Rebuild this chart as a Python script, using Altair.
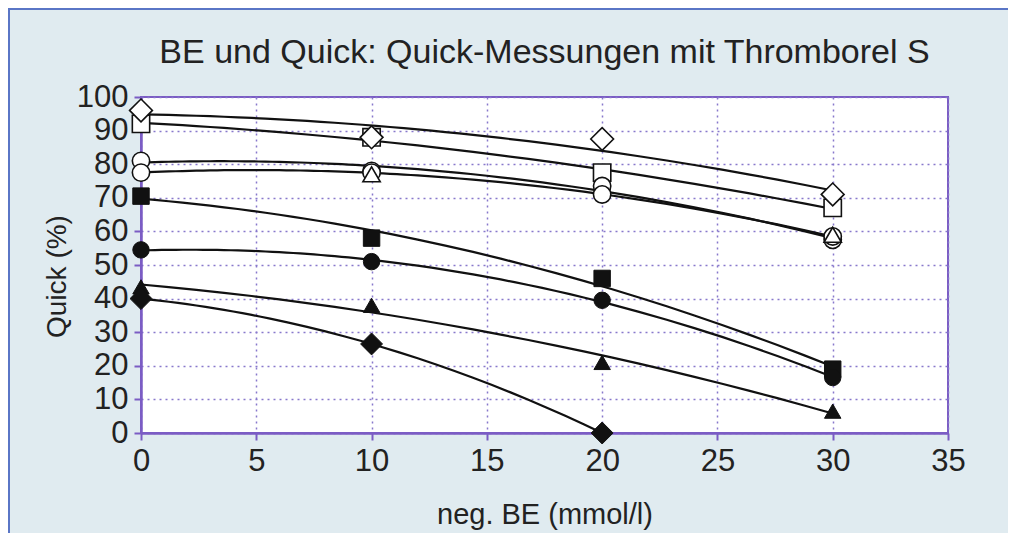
import altair as alt
import pandas as pd

# ---- data ----
be = [0, 10, 20, 30]
open_diamond = [96, 88, 87.5, 71]
open_square = [92, 88, 77.5, 67]
open_circle_a = [81, 78, 73.5, 57.5]
open_circle_b = [77.5, 77.5, 71, 58.5]
open_triangle_x = [10, 30]
open_triangle = [77, 59]
filled_square = [70.5, 58, 46, 19]
filled_circle = [54.5, 51, 39.5, 16.5]
filled_triangle = [43.5, 38, 21, 6.5]
filled_diamond_x = [0, 10, 20]
filled_diamond = [40, 26.5, 0]

x_ticks = [0, 5, 10, 15, 20, 25, 30, 35]
y_ticks = [0, 10, 20, 30, 40, 50, 60, 70, 80, 90, 100]
chart_title = "BE und Quick: Quick-Messungen mit Thromborel S"

rows = []
def add(name, shape, filled, xs, ys, line=True):
    for xv, yv in zip(xs, ys):
        rows.append(dict(series=name, shape=shape, filled=filled, line=line, x=xv, y=yv))

add("open_square", "square", False, be, open_square)
add("open_circle_a", "circle", False, be, open_circle_a)
add("open_circle_b", "circle", False, be, open_circle_b)
add("open_diamond", "diamond", False, be, open_diamond)
add("open_triangle", "triangle-up", False, open_triangle_x, open_triangle, line=False)
add("filled_square", "square", True, be, filled_square)
add("filled_circle", "circle", True, be, filled_circle)
add("filled_triangle", "triangle-up", True, be, filled_triangle)
add("filled_diamond", "diamond", True, filled_diamond_x, filled_diamond)
df = pd.DataFrame(rows)

W, H = 807, 336
PAD = {"left": 133, "top": 89, "right": 60, "bottom": 100}
PURPLE = "#7b5cc4"
TEXT = "#222222"
FONT = "Liberation Sans"

xs = alt.Scale(domain=[0, 35], nice=False)
ys = alt.Scale(domain=[0, 100], nice=False)

x_axis = alt.Axis(values=x_ticks, title="neg. BE (mmol/l)", titlePadding=24,
                  titleFontSize=29, labelFlush=False, labelOverlap=False)
y_axis = alt.Axis(values=y_ticks, title="Quick (%)", titleAngle=-90, titleAlign="center",
                  titleBaseline="middle", titleX=-84, titleY=179, titleFontSize=28,
                  labelFlush=False, labelOverlap=False)

X = alt.X("x:Q", scale=xs, axis=x_axis)
Y = alt.Y("y:Q", scale=ys, axis=y_axis)

base = alt.Chart(df)

lines = base.transform_filter("datum.line").transform_regression(
    "x", "y", method="poly", order=2, groupby=["series"]
).mark_line(color="#111111", strokeWidth=2.2).encode(
    x=X, y=Y, detail="series:N",
)

open_pts = base.transform_filter("!datum.filled").mark_point(
    filled=True, fill="white", stroke="#111111", strokeWidth=1.6, opacity=1
).encode(
    x=X, y=Y, shape=alt.Shape("shape:N", scale=None),
    size=alt.condition("datum.shape == 'diamond'", alt.value(520), alt.value(300)),
)

filled_pts = base.transform_filter("datum.filled").mark_point(
    filled=True, fill="#111111", stroke="#111111", strokeWidth=1, opacity=1
).encode(
    x=X, y=Y, shape=alt.Shape("shape:N", scale=None),
    size=alt.condition("datum.shape == 'diamond'", alt.value(480), alt.value(270)),
)

one = pd.DataFrame({"t": [chart_title]})

title_text = alt.Chart(one).mark_text(
    font=FONT, fontSize=34, color=TEXT, align="center", baseline="alphabetic", clip=False
).encode(x=alt.value(W / 2), y=alt.value(-34), text="t:N")

frame_top = alt.Chart(one).mark_rule(
    color="#5a76c6", strokeWidth=2, clip=False
).encode(x=alt.value(-PAD["left"]), x2=alt.value(W + PAD["right"]), y=alt.value(-PAD["top"] + 1))

frame_left = alt.Chart(one).mark_rule(
    color="#5a76c6", strokeWidth=2, clip=False
).encode(x=alt.value(-PAD["left"] + 1), y=alt.value(-PAD["top"]), y2=alt.value(H + PAD["bottom"]))

chart = alt.layer(frame_top, frame_left, title_text, lines, open_pts, filled_pts).properties(
    width=W, height=H,
    padding=PAD,
    autosize=alt.AutoSizeParams(type="none"),
    background="#e0ebf0",
).configure_view(
    fill="white", stroke=PURPLE, strokeWidth=2
).configure_axis(
    labelFont=FONT, labelFontSize=31, labelColor=TEXT,
    titleFont=FONT, titleColor=TEXT, titleFontWeight="normal",
    domainColor=PURPLE, domainWidth=2.5,
    tickColor=PURPLE, tickWidth=2, tickSize=7,
    grid=True, gridColor="#8878cc", gridDash=[2, 4], gridWidth=1.5,
    labelPadding=6, labelOverlap=False, labelFlush=False,
)

chart.save("out.html", embed_options={"renderer": "svg", "actions": False})
